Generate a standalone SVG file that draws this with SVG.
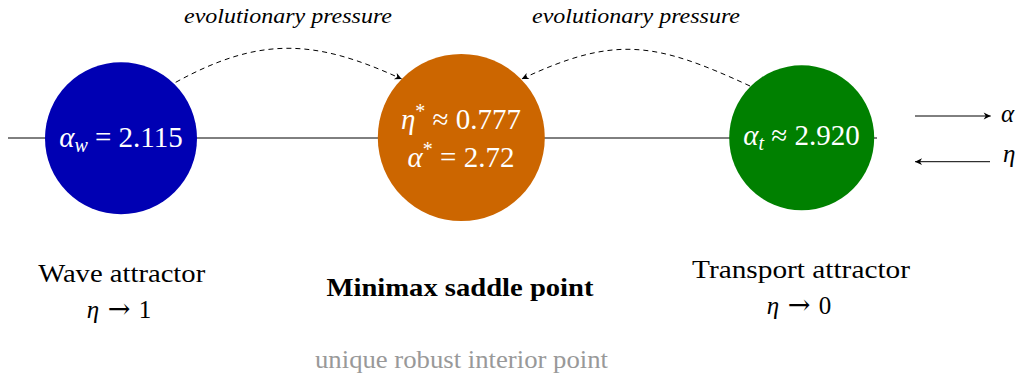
<svg xmlns="http://www.w3.org/2000/svg" width="1019" height="378" viewBox="0 0 1019 378">
  <style>
    .math { font-family: "Liberation Serif", "DejaVu Serif", serif; font-size: 29px; fill: #ffffff; }
    .it { font-style: italic; }
    .label { font-family: "Liberation Serif", "DejaVu Serif", serif; font-size: 25px; fill: #000; }
    .grey { fill: #999999; }
    .arrow { font-family: "DejaVu Serif", "Liberation Serif", serif; font-size: 27px; }
    .note { font-family: "Liberation Serif", "DejaVu Serif", serif; font-size: 22px; font-style: italic; fill: #000; }
    .axis { stroke: #000; stroke-width: 1; fill: none; }
    .pressure { stroke: #000; stroke-width: 1; fill: none; stroke-dasharray: 5 4; }
  </style>
  <defs>
    <marker id="head" viewBox="-8 -4 9 8" refX="0" refY="0" markerWidth="9" markerHeight="8" markerUnits="userSpaceOnUse" orient="auto">
      <path d="M0,0 L-7,-3.4 L-5,0 L-7,3.4 Z" fill="#000"/>
    </marker>
  </defs>
  <rect width="1019" height="378" fill="#ffffff"/>

  <g id="connectors">
    <line class="axis" x1="8" y1="138" x2="877" y2="138"/>
    <path class="pressure" d="M175.7,82.3 C260,36 315,39 401.7,79" marker-end="url(#head)"/>
    <path class="pressure" d="M750,86 C655,42 615,35 521.7,79" marker-end="url(#head)"/>
    <text class="note" x="288" y="23" text-anchor="middle" textLength="208" lengthAdjust="spacingAndGlyphs">evolutionary pressure</text>
    <text class="note" x="636" y="23" text-anchor="middle" textLength="208" lengthAdjust="spacingAndGlyphs">evolutionary pressure</text>
  </g>

  <g id="wave">
    <circle cx="121" cy="138.3" r="76" fill="#0000b3"/>
    <text class="math" x="121" y="147" text-anchor="middle"><tspan class="it">α</tspan><tspan class="it" font-size="20" dy="5">w</tspan><tspan dy="-5"> = 2.115</tspan></text>
    <text class="label" x="121.7" y="281.7" text-anchor="middle" textLength="167" lengthAdjust="spacingAndGlyphs">Wave attractor</text>
    <text class="label" x="119" y="318" text-anchor="middle"><tspan class="it">η</tspan><tspan class="arrow"> → </tspan>1</text>
  </g>

  <g id="saddle">
    <circle cx="461.3" cy="137.5" r="83.5" fill="#cc6600"/>
    <text class="math" x="461" y="129.3" text-anchor="middle"><tspan class="it">η</tspan><tspan font-size="20" dy="-11">*</tspan><tspan dy="11"> ≈ 0.777</tspan></text>
    <text class="math" x="461" y="166.7" text-anchor="middle"><tspan class="it">α</tspan><tspan font-size="20" dy="-11">*</tspan><tspan dy="11"> = 2.72</tspan></text>
    <text class="label" x="460" y="296" text-anchor="middle" font-weight="bold" textLength="267" lengthAdjust="spacingAndGlyphs">Minimax saddle point</text>
    <text class="label grey" x="461.5" y="368" text-anchor="middle" textLength="293" lengthAdjust="spacingAndGlyphs">unique robust interior point</text>
  </g>

  <g id="transport">
    <circle cx="801.7" cy="137.8" r="72.5" fill="#008000"/>
    <text class="math" x="801.5" y="145" text-anchor="middle"><tspan class="it">α</tspan><tspan class="it" font-size="20" dy="5">t</tspan><tspan dy="-5"> ≈ 2.920</tspan></text>
    <text class="label" x="801" y="277.5" text-anchor="middle" textLength="218" lengthAdjust="spacingAndGlyphs">Transport attractor</text>
    <text class="label" x="799" y="314" text-anchor="middle"><tspan class="it">η</tspan><tspan class="arrow"> → </tspan>0</text>
  </g>

  <g id="legend">
    <line class="axis" x1="915" y1="116" x2="990.7" y2="116" marker-end="url(#head)"/>
    <text class="label it" x="1001" y="121.7">α</text>
    <line class="axis" x1="990" y1="161.7" x2="915" y2="161.7" marker-end="url(#head)"/>
    <text class="label it" x="1003" y="162">η</text>
  </g>
</svg>
